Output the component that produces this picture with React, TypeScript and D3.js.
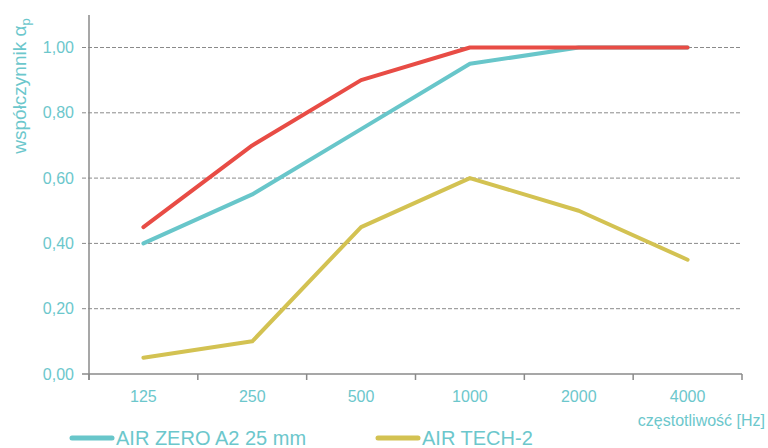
import React from 'react';
import * as d3 from 'd3';

const categories = ['125', '250', '500', '1000', '2000', '4000'];
const airZero50 = [0.45, 0.7, 0.9, 1.0, 1.0, 1.0];
const airZero25 = [0.4, 0.55, 0.75, 0.95, 1.0, 1.0];
const airTech2 = [0.05, 0.1, 0.45, 0.6, 0.5, 0.35];
const yTicks = [0, 0.2, 0.4, 0.6, 0.8, 1.0];

// draw order: last one on top
const series = [
  { name: 'AIR ZERO A2 25 mm', values: airZero25, color: '#68c6ca', legend: true },
  { name: 'AIR TECH-2', values: airTech2, color: '#d3c252', legend: true },
  { name: 'AIR ZERO A2 50 mm', values: airZero50, color: '#e84c45', legend: false },
];

const textColor = '#6cc7cc';
const axisColor = '#8a8a8a';
const font = '"Liberation Sans", Arial, sans-serif';

const App = () => {
  const width = 768;
  const height = 448;
  const left = 89;
  const right = 742;
  const top = 47.5;
  const bottom = 374;

  const x = d3.scaleBand().domain(categories).range([left, right]);
  const y = d3.scaleLinear().domain([0, 1]).range([bottom, top]);

  const line = d3.line<number>()
    .x((_, i) => x(categories[i])! + x.bandwidth() / 2)
    .y(d => y(d));

  const bandEdges = categories.map(c => x(c)!).concat([right]);

  return (
    <svg width={width} height={height} style={{ position: 'absolute', left: 0, top: 0, background: '#fff' }} fontFamily={font}>
      {/* grid */}
      {yTicks.filter(t => t > 0).map(t => (
        <line key={t} x1={82} x2={right} y1={y(t)} y2={y(t)} stroke={axisColor} strokeWidth={1} strokeDasharray="4,2" />
      ))}
      {/* axes */}
      <line x1={left} x2={left} y1={15} y2={380} stroke={axisColor} strokeWidth={1.5} />
      <line x1={82} x2={right} y1={bottom} y2={bottom} stroke={axisColor} strokeWidth={1.5} />
      {bandEdges.map((e, i) => (
        <line key={i} x1={e} x2={e} y1={bottom} y2={380} stroke={axisColor} strokeWidth={1.5} />
      ))}
      {yTicks.map(t => (
        <text key={t} x={74} y={y(t)} dy="0.35em" textAnchor="end" fontSize={16} fill={textColor}>
          {t.toFixed(2).replace('.', ',')}
        </text>
      ))}
      {categories.map(c => (
        <text key={c} x={x(c)! + x.bandwidth() / 2} y={396} dy="0.35em" textAnchor="middle" fontSize={16} fill={textColor}>
          {c}
        </text>
      ))}
      <text x={765} y={420} dy="0.35em" textAnchor="end" fontSize={16} fill={textColor}>częstotliwość [Hz]</text>
      <text transform="translate(26,86) rotate(-90)" textAnchor="middle" fontSize={19} fill={textColor}>
        współczynnik α<tspan fontSize={13} dy={4}>p</tspan>
      </text>
      {/* lines */}
      {series.map(s => (
        <path key={s.name} d={line(s.values)!} fill="none" stroke={s.color} strokeWidth={4} strokeLinecap="round" strokeLinejoin="round" />
      ))}
      {/* legend */}
      {series.filter(s => s.legend).map((s, i) => {
        const lx = i === 0 ? 72 : 378;
        return (
          <g key={s.name}>
            <line x1={lx} x2={lx + 40} y1={438} y2={438} stroke={s.color} strokeWidth={5} strokeLinecap="round" />
            <text x={lx + 44} y={438} dy="0.35em" fontSize={20} fill={textColor}>{s.name}</text>
          </g>
        );
      })}
    </svg>
  );
};

export default App;
